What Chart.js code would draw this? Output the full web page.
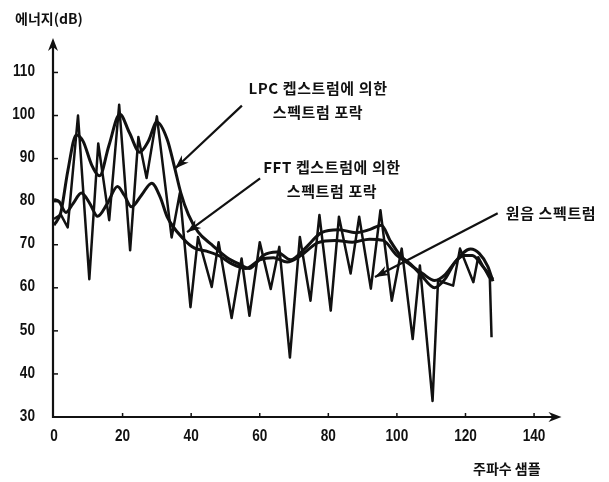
<!DOCTYPE html>
<html>
<head>
<meta charset="utf-8">
<script src="https://cdn.jsdelivr.net/npm/chart.js@4/dist/chart.umd.min.js"></script>
<style>
  html, body { margin: 0; padding: 0; background: #fff; }
  #wrap { width: 609px; height: 482px; }
</style>
</head>
<body>
<div id="wrap"><canvas id="c" width="609" height="482"></canvas></div>
<script>
// Axis ticks
const xTicks = [0, 20, 40, 60, 80, 100, 120, 140];
const yTicks = [30, 40, 50, 60, 70, 80, 90, 100, 110];

// Original spectrum (frequency sample, dB)
const origX = [0, 2, 4, 7, 10.3, 12.9, 16.1, 19, 22.2, 24.6, 27, 30, 34.3, 36.7, 39.8, 42, 46, 48, 51.8, 54.7, 57, 60, 63.2, 65.7, 68.8, 71.7, 74.8, 77.4, 80.7, 83.1, 86.5, 89, 92.4, 95.2, 98.5, 101.4, 104.6, 106.7, 110.4, 112, 116.4, 118.4, 122.3, 123.7, 127.1, 127.6];
const origY = [76, 77, 74, 100, 62, 93.5, 75.7, 102.5, 68.7, 95, 85.5, 99.8, 71.7, 82, 55.5, 71.8, 60.2, 70.6, 53, 66.8, 53.5, 70.6, 59.7, 69.5, 43.8, 71.8, 57, 76.9, 54.7, 76.5, 63.3, 76.5, 59.8, 78, 57, 69.1, 48.1, 65.2, 33.7, 61.7, 60.5, 69.1, 61.3, 67.1, 62.1, 48.5];

// Spectral envelope from LPC cepstrum
const lpcX = [0, 2, 4, 6.5, 8.5, 11, 13.3, 16, 19.2, 22, 25, 27.5, 30, 33, 35, 37, 39.2, 42, 46, 50.5, 54, 57, 61, 65, 69, 73, 78, 83, 88, 92, 95.5, 98, 101, 104, 107, 111, 114, 117, 121.5, 124, 126.5, 128];
const lpcY = [74.5, 77.5, 87, 95.5, 94, 88.5, 86, 93, 100.3, 96, 91.5, 94, 98.5, 94.5, 88.5, 82, 77, 73, 70, 67, 65.5, 64.5, 67.5, 68.3, 66.5, 69, 72.8, 73.5, 72.8, 73.5, 74.5, 71, 67.5, 65.5, 63, 60, 62, 66, 69, 68, 65, 61.5];

// Spectral envelope from FFT cepstrum
const fftX = [0, 1.5, 3.5, 5.5, 8, 10.5, 12.7, 15.5, 18.5, 20.5, 22.6, 25.5, 28.5, 31, 33, 37.7, 41, 44.5, 48, 52, 56, 60, 64, 68, 72, 77, 82, 87, 92, 96, 100, 104, 107.5, 111, 114, 117, 119.5, 122, 125, 128];
const fftY = [80.5, 80, 77.5, 79.5, 82, 79.5, 76.6, 79.5, 83.5, 81.5, 78.8, 81.5, 84.3, 81, 76.5, 71.4, 69.2, 68.5, 67.5, 65.5, 64.5, 66.5, 67, 66, 67.5, 70.5, 71, 70.6, 71.3, 71, 67.5, 65.3, 63.3, 61.7, 63, 66, 67.5, 67.5, 65, 62];

const pts = (xs, ys) => xs.map((x, i) => ({ x: x, y: ys[i] }));

const INK = '#111';
const NUM_FONT = 'bold 17px "Liberation Sans", sans-serif';
const KO_FONT = 'bold 14px "Noto Sans CJK KR", sans-serif';
const NOTE_FONT = 'bold 15px "Noto Sans CJK KR", sans-serif';

// Narrow numerals: draw with a horizontal squeeze
function narrowText(ctx, text, x, y, align) {
  const k = 0.8;
  ctx.save();
  ctx.translate(x, y);
  ctx.scale(k, 1);
  ctx.textAlign = align;
  ctx.fillText(text, 0, 0);
  ctx.restore();
}

function arrowHead(ctx, x1, y1, x2, y2, len, half) {
  const a = Math.atan2(y2 - y1, x2 - x1);
  ctx.beginPath();
  ctx.moveTo(x2, y2);
  ctx.lineTo(x2 - len * Math.cos(a) + half * Math.sin(a), y2 - len * Math.sin(a) - half * Math.cos(a));
  ctx.lineTo(x2 - len * Math.cos(a) * 0.7, y2 - len * Math.sin(a) * 0.7);
  ctx.lineTo(x2 - len * Math.cos(a) - half * Math.sin(a), y2 - len * Math.sin(a) + half * Math.cos(a));
  ctx.closePath();
  ctx.fill();
}

// Callouts: arrow tail/tip in data units, text lines with pixel anchor
const callouts = [
  { tail: [54.8, 102.3], tip: [35.3, 87.7], lines: ['LPC 켑스트럼에 의한', '스펙트럼 포락'], at: [318, 88] },
  { tail: [60.1, 85.4], tip: [38.8, 72.9], lines: ['FFT 켑스트럼에 의한', '스펙트럼 포락'], at: [332, 167] },
  { tail: [129.4, 77.3], tip: [93.6, 62.5], lines: ['원음 스펙트럼'], at: [551, 213] }
];

const axesPlugin = {
  id: 'axesPlugin',
  afterDraw(chart) {
    const ctx = chart.ctx;
    const xs = chart.scales.x, ys = chart.scales.y;
    const ca = chart.chartArea;
    const ox = ca.left - 1, oy = ys.getPixelForValue(30);
    ctx.save();
    ctx.strokeStyle = INK;
    ctx.fillStyle = INK;
    ctx.lineWidth = 2.2;
    // y axis with arrow
    ctx.beginPath();
    ctx.moveTo(ox, oy + 1);
    ctx.lineTo(ox, ca.top + 6);
    ctx.stroke();
    arrowHead(ctx, ox, oy, ox, ca.top, 13, 5);
    // x axis with arrow
    ctx.beginPath();
    ctx.moveTo(ox - 1, oy);
    ctx.lineTo(ca.right - 6, oy);
    ctx.stroke();
    arrowHead(ctx, ox, oy, ca.right, oy, 13, 5);
    // tick marks
    ctx.lineWidth = 1.5;
    yTicks.forEach(v => {
      if (v === 30) return;
      const y = ys.getPixelForValue(v);
      ctx.beginPath(); ctx.moveTo(ox, y); ctx.lineTo(ox + 5, y); ctx.stroke();
    });
    xTicks.forEach(v => {
      if (v === 0) return;
      const x = xs.getPixelForValue(v);
      ctx.beginPath(); ctx.moveTo(x, oy); ctx.lineTo(x, oy - 4); ctx.stroke();
    });
    // tick labels
    ctx.font = NUM_FONT;
    ctx.textBaseline = 'middle';
    yTicks.forEach(v => narrowText(ctx, String(v), 35, ys.getPixelForValue(v) - 1, 'right'));
    xTicks.forEach(v => narrowText(ctx, String(v), xs.getPixelForValue(v), 436, 'center'));
    // axis titles
    ctx.font = KO_FONT;
    ctx.textAlign = 'left';
    ctx.fillText('에너지(dB)', 15, 19);
    ctx.fillText('주파수 샘플', 473, 469);
    // callouts
    ctx.lineWidth = 2.2;
    ctx.font = NOTE_FONT;
    callouts.forEach(c => {
      const x1 = xs.getPixelForValue(c.tail[0]), y1 = ys.getPixelForValue(c.tail[1]);
      const x2 = xs.getPixelForValue(c.tip[0]), y2 = ys.getPixelForValue(c.tip[1]);
      ctx.beginPath(); ctx.moveTo(x1, y1); ctx.lineTo(x2, y2); ctx.stroke();
      arrowHead(ctx, x1, y1, x2, y2, 14, 5);
      ctx.textAlign = 'center';
      ctx.letterSpacing = '0.6px';
      c.lines.forEach((t, i) => ctx.fillText(t, c.at[0], c.at[1] + i * 24));
      ctx.letterSpacing = '0px';
    });
    ctx.restore();
  }
};

const lineDs = (data, w, smooth) => ({
  data: data,
  borderColor: INK,
  borderWidth: w,
  pointRadius: 0,
  fill: false,
  tension: smooth ? 0.4 : 0,
  cubicInterpolationMode: smooth ? 'monotone' : 'default',
  borderJoinStyle: 'round'
});

new Chart(document.getElementById('c'), {
  type: 'line',
  data: {
    datasets: [
      lineDs(pts(origX, origY), 2.5, false),
      lineDs(pts(lpcX, lpcY), 3, true),
      lineDs(pts(fftX, fftY), 3, true)
    ]
  },
  options: {
    responsive: false,
    animation: false,
    devicePixelRatio: 1,
    layout: { padding: { left: 54, right: 47.5, top: 38, bottom: 65 } },
    scales: {
      x: { type: 'linear', min: 0, max: 148, display: false },
      y: { type: 'linear', min: 30, max: 118, display: false }
    },
    plugins: { legend: { display: false }, tooltip: { enabled: false } }
  },
  plugins: [axesPlugin]
});
</script>
</body>
</html>
